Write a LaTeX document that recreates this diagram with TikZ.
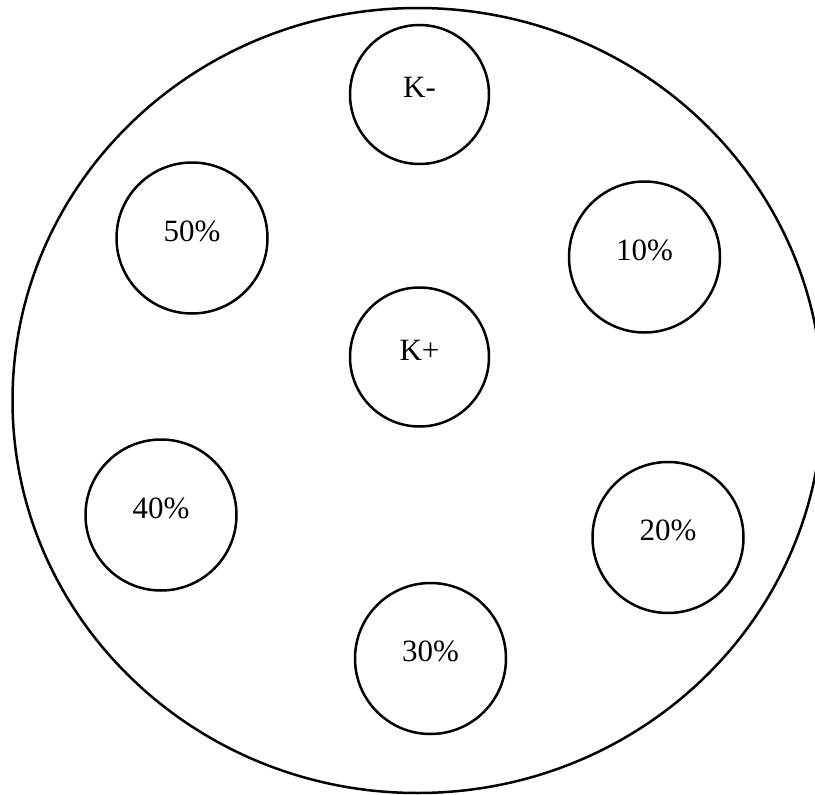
\documentclass[tikz,border=0pt]{standalone}
\usepackage{fontspec}
\setmainfont{Liberation Serif}
\begin{document}
\begin{tikzpicture}[x=1pt,y=-1pt,
  dish/.style={draw,line width=2.5pt},
  spot/.style={draw,circle,line width=2.5pt,inner sep=0pt,minimum size=151pt},
  kspot/.style={spot,minimum size=139pt},
  lbl/.style={font=\fontsize{31}{34}\selectfont,inner sep=0pt}]
\useasboundingbox (0,0) rectangle (815,795);
\clip (0,0) rectangle (815,795);
\draw[dish] (417.5,400.5) ellipse [x radius=405, y radius=392.5];
\node[kspot] (km) at (419.5,94.5) {};
\node[kspot] (kp) at (419.5,357) {};
\node[spot] (p10) at (644.5,257) {};
\node[spot] (p20) at (668,537.5) {};
\node[spot] (p30) at (430.5,658.5) {};
\node[spot] (p40) at (161,515) {};
\node[spot] (p50) at (192,238) {};
\node[lbl] (tkm) at ([yshift=7pt]km.center) {K-};
\node[lbl] (tkp) at ([yshift=7pt]kp.center) {K+};
\node[lbl] (t10) at ([yshift=7pt]p10.center) {10\%};
\node[lbl] (t20) at ([yshift=7pt]p20.center) {20\%};
\node[lbl] (t30) at ([yshift=7pt]p30.center) {30\%};
\node[lbl] (t40) at ([yshift=7pt]p40.center) {40\%};
\node[lbl] (t50) at ([yshift=7pt]p50.center) {50\%};
\end{tikzpicture}
\end{document}
